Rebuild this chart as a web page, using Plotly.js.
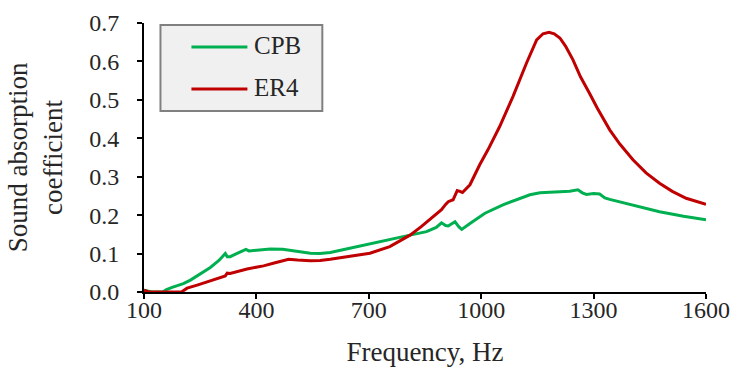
<!DOCTYPE html>
<html><head><meta charset="utf-8">
<script src="https://cdn.plot.ly/plotly-3.0.1.min.js"></script>
<style>html,body{margin:0;padding:0;background:#fff}#chart{width:742px;height:370px}</style>
</head><body><div id="chart"></div>
<script>
const cpbFreq = [100,110,120,150,160,175,190,205,224,250,277,300,312,317,322,330,350,365,372,380,400,437,470,500,544,570,597,640,685,725,770,810,854,880,894,905,912,930,940,948,970,1010,1058,1103,1130,1157,1201,1236,1258,1270,1281,1300,1316,1330,1343,1405,1476,1540,1600];
const cpbVals = [0.005,0.003,0.0,0.0,0.006,0.012,0.016,0.022,0.031,0.047,0.064,0.082,0.095,0.100,0.092,0.092,0.101,0.108,0.111,0.107,0.109,0.112,0.111,0.107,0.101,0.100,0.103,0.112,0.122,0.131,0.140,0.148,0.157,0.168,0.180,0.173,0.172,0.183,0.170,0.163,0.178,0.205,0.227,0.243,0.253,0.258,0.261,0.262,0.266,0.258,0.254,0.256,0.255,0.245,0.241,0.227,0.209,0.197,0.188];
const er4Freq = [100,105,112,200,215,242,270,300,317,322,330,375,419,450,486,510,544,570,597,650,703,756,810,840,872,894,905,912,925,936,943,950,970,985,996,1018,1049,1085,1121,1148,1165,1181,1195,1210,1225,1245,1265,1289,1310,1343,1370,1405,1440,1476,1510,1547,1575,1600];
const er4Vals = [0.005,0.003,0.0,0.0,0.010,0.018,0.027,0.036,0.042,0.049,0.048,0.060,0.068,0.076,0.085,0.083,0.081,0.082,0.085,0.093,0.101,0.118,0.148,0.170,0.196,0.214,0.228,0.235,0.240,0.264,0.262,0.259,0.279,0.310,0.331,0.370,0.430,0.509,0.596,0.656,0.672,0.676,0.672,0.661,0.640,0.604,0.560,0.517,0.478,0.422,0.385,0.344,0.310,0.283,0.262,0.244,0.236,0.228];
const seriesNames = ['CPB','ER4'];
const seriesColors = ['#00b050','#c00000'];
const xTicks = [100,400,700,1000,1300,1600];
const yTicks = [0,0.1,0.2,0.3,0.4,0.5,0.6,0.7];

const font = '"Liberation Serif", "Times New Roman", serif';
const txt = '#262626';
const traces = [
  {x: cpbFreq, y: cpbVals, name: seriesNames[0], mode: 'lines', line: {color: seriesColors[0], width: 3}},
  {x: er4Freq, y: er4Vals, name: seriesNames[1], mode: 'lines', line: {color: seriesColors[1], width: 3}}
];

// custom legend box (paper coordinates)
const legY = [0.9108, 0.7546];
const shapes = [{type: 'rect', xref: 'paper', yref: 'paper', x0: 0.0293, x1: 0.3173, y0: 0.6729, y1: 0.9926,
  fillcolor: '#f0f0f0', line: {color: '#808080', width: 2}}];
const annotations = [];
seriesNames.forEach((n, i) => {
  shapes.push({type: 'line', xref: 'paper', yref: 'paper', x0: 0.0844, x1: 0.184, y0: legY[i], y1: legY[i],
    line: {color: seriesColors[i], width: 3}});
  annotations.push({xref: 'paper', yref: 'paper', x: 0.1929, y: legY[i] + 0.006, xanchor: 'left', yanchor: 'middle',
    text: n, showarrow: false, font: {family: font, size: 25, color: txt}});
});

const layout = {
  width: 742, height: 370,
  margin: {l: 143.5, r: 36, t: 23, b: 78},
  paper_bgcolor: '#fff', plot_bgcolor: '#fff',
  font: {family: font, size: 24, color: txt},
  showlegend: false,
  shapes: shapes, annotations: annotations,
  xaxis: {range: [100, 1600], tickvals: xTicks, ticktext: xTicks.map(String), showgrid: false, zeroline: false,
    showline: true, linecolor: '#000', linewidth: 2, ticks: 'outside', ticklen: 5, tickwidth: 2, tickcolor: '#000',
    ticklabelstandoff: -10,
    tickfont: {family: font, size: 24, color: txt},
    title: {text: 'Frequency, Hz', font: {family: font, size: 27, color: txt}, standoff: 20}},
  yaxis: {range: [0, 0.7], tickvals: yTicks, tickformat: '.1f', showgrid: false, zeroline: false,
    showline: true, linecolor: '#000', linewidth: 2, ticks: 'outside', ticklen: 5, tickwidth: 2, tickcolor: '#000',
    ticklabelstandoff: 13,
    tickfont: {family: font, size: 24, color: txt},
    title: {text: 'Sound absorption<br>coefficient', font: {family: font, size: 27, color: txt}, standoff: 19}}
};
Plotly.newPlot('chart', traces, layout, {displayModeBar: false, staticPlot: true});
</script></body></html>
